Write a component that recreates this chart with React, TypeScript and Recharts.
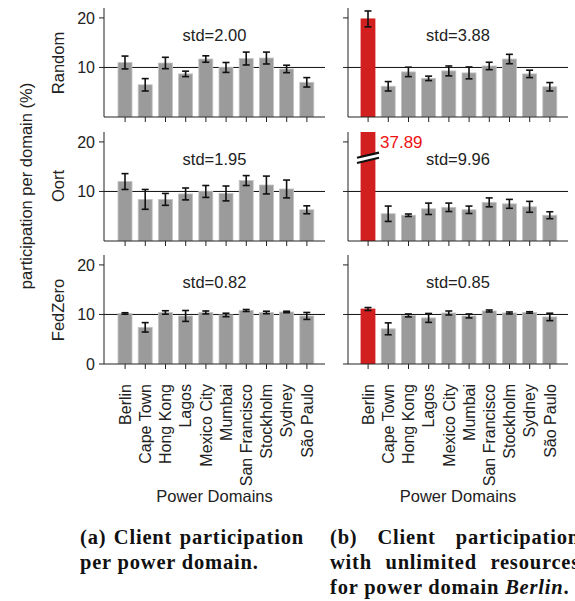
import React from "react";
import { BarChart, Bar, XAxis, YAxis, ErrorBar, ReferenceLine } from "recharts";

// power domains on the x axis
const domains = [
  "Berlin",
  "Cape Town",
  "Hong Kong",
  "Lagos",
  "Mexico City",
  "Mumbai",
  "San Francisco",
  "Stockholm",
  "Sydney",
  "São Paulo",
];

// (a) client participation per power domain
const randomShare = [11.0, 6.5, 10.9, 8.7, 11.7, 10.0, 11.8, 11.9, 9.7, 7.0];
const randomErr = [1.3, 1.25, 1.15, 0.55, 0.65, 1.0, 1.3, 1.2, 0.75, 0.95];
const oortShare = [12.0, 8.4, 8.4, 9.5, 10.0, 9.6, 12.2, 11.3, 10.5, 6.3];
const oortErr = [1.6, 2.0, 1.2, 1.2, 1.2, 1.5, 1.0, 1.8, 1.8, 0.8];
const fedzeroShare = [10.2, 7.4, 10.4, 9.7, 10.4, 9.9, 10.8, 10.4, 10.5, 9.7];
const fedzeroErr = [0.15, 0.95, 0.35, 1.1, 0.3, 0.35, 0.2, 0.25, 0.15, 0.7];

// (b) unlimited resources for Berlin
const randomBerlinShare = [19.8, 6.2, 9.1, 7.8, 9.3, 8.9, 10.3, 11.7, 8.7, 6.1];
const randomBerlinErr = [1.6, 0.95, 0.95, 0.45, 1.0, 1.2, 0.75, 0.95, 0.75, 0.85];
const oortBerlinShare = [37.89, 5.5, 5.2, 6.5, 6.8, 6.3, 7.8, 7.5, 6.9, 5.2];
const oortBerlinErr = [null, 1.55, 0.25, 1.15, 0.85, 0.75, 0.9, 0.9, 1.1, 0.7];
const fedzeroBerlinShare = [11.1, 7.1, 9.8, 9.3, 10.3, 9.7, 10.7, 10.3, 10.4, 9.5];
const fedzeroBerlinErr = [0.3, 1.2, 0.3, 0.9, 0.4, 0.4, 0.2, 0.2, 0.15, 0.75];

const stdLabels = [
  ["std=2.00", "std=3.88"],
  ["std=1.95", "std=9.96"],
  ["std=0.82", "std=0.85"],
];
const strategies = ["Random", "Oort", "FedZero"];
const yTicks = [0, 10, 20];
const Y_MAX = 22;
const FAIR_SHARE = 10;
const BREAK_AT = 16.8;
const LABEL_AT = 20;

const GRAY = "#9b9b9b";
const RED = "#d21f20";
const INK = "#222";

const PLOT_H = 109;
const MT = 4;
const MR = 4;
const ROW_TOPS = [8, 131.5, 255];
const COLS = [
  { left: 34, axisW: 70, plotW: 221, padL: 11, padR: 8 },
  { left: 330, axisW: 18, plotW: 220, padL: 10, padR: 8 },
];

function buildRows(values: number[], errs: (number | null)[], highlight: boolean) {
  return domains.map((d, i) => ({
    domain: d,
    value: values[i],
    shown: Math.min(values[i], Y_MAX),
    err: errs[i],
    hot: highlight && i === 0,
  }));
}

const panels = [
  [buildRows(randomShare, randomErr, false), buildRows(randomBerlinShare, randomBerlinErr, true)],
  [buildRows(oortShare, oortErr, false), buildRows(oortBerlinShare, oortBerlinErr, true)],
  [buildRows(fedzeroShare, fedzeroErr, false), buildRows(fedzeroBerlinShare, fedzeroBerlinErr, true)],
];

const blankTick = () => <g />;

function DomainTick(props: any) {
  const { x, y, payload } = props;
  return (
    <text
      x={x}
      y={y}
      transform={`rotate(-90, ${x}, ${y})`}
      textAnchor="end"
      dy="0.36em"
      fontSize={16}
      fill={INK}
    >
      {payload.value}
    </text>
  );
}

function BarShape(props: any) {
  const { x, y, width, height, payload } = props;
  const fill = payload.hot ? RED : GRAY;
  const rect = (
    <rect x={x} y={y} width={width} height={height} fill={fill} stroke={payload.hot ? fill : "#c4c4c4"} strokeWidth={0.8} />
  );
  if (payload.value <= Y_MAX) return rect;
  // broken bar: value runs off the axis
  const bottom = y + height;
  const perUnit = height / payload.shown;
  const yb = bottom - BREAK_AT * perUnit;
  const yl = bottom - LABEL_AT * perUnit;
  const x0 = x - 4;
  const x1 = x + width + 4;
  const gap = 2.6;
  const rise = 2.6;
  return (
    <g>
      {rect}
      <polygon
        points={`${x0},${yb - gap + rise} ${x1},${yb - gap - rise} ${x1},${yb + gap - rise} ${x0},${yb + gap + rise}`}
        fill="#fff"
      />
      <line x1={x0} y1={yb - gap + rise} x2={x1} y2={yb - gap - rise} stroke="#111" strokeWidth={2.2} />
      <line x1={x0} y1={yb + gap + rise} x2={x1} y2={yb + gap - rise} stroke="#111" strokeWidth={2.2} />
      <text x={x + width + 5} y={yl} dy="0.36em" fontSize={17} fill="#ee1111">
        {payload.value.toFixed(2)}
      </text>
    </g>
  );
}

function Panel({ row, col }: { row: number; col: number }) {
  const c = COLS[col];
  const bottomRow = row === 2;
  const xH = bottomRow ? 140 : 8;
  return (
    <div style={{ position: "absolute", left: c.left, top: ROW_TOPS[row] - MT }}>
      <BarChart
        width={c.axisW + c.plotW + MR}
        height={MT + PLOT_H + xH}
        data={panels[row][col]}
        margin={{ top: MT, right: MR, left: 0, bottom: 0 }}
        barSize={14}
      >
        <XAxis
          dataKey="domain"
          height={xH}
          interval={0}
          padding={{ left: c.padL, right: c.padR }}
          tick={bottomRow ? <DomainTick /> : blankTick}
          tickSize={5}
          tickMargin={15}
          axisLine={{ stroke: INK }}
          tickLine={{ stroke: INK }}
          label={
            bottomRow
              ? { value: "Power Domains", position: "insideBottom", offset: 2, fontSize: 16.5, fill: INK }
              : undefined
          }
        />
        <YAxis
          width={c.axisW}
          domain={[0, Y_MAX]}
          ticks={yTicks}
          allowDataOverflow
          tick={col === 0 ? { fontSize: 16, fill: INK } : blankTick}
          tickSize={5}
          tickMargin={4}
          axisLine={{ stroke: INK }}
          tickLine={{ stroke: INK }}
        />
        <ReferenceLine y={FAIR_SHARE} stroke="#111" strokeWidth={1} zIndex={250} />
        <Bar dataKey="shown" shape={BarShape} isAnimationActive={false}>
          <ErrorBar dataKey="err" width={3.5} stroke="#111" strokeWidth={1.6} isAnimationActive={false} />
        </Bar>
      </BarChart>
    </div>
  );
}

function VText({ x, y, size, children }: { x: number; y: number; size: number; children: React.ReactNode }) {
  return (
    <div
      style={{
        position: "absolute",
        left: x,
        top: y,
        transform: "translate(-50%, -50%) rotate(-90deg)",
        whiteSpace: "nowrap",
        fontSize: size,
        color: INK,
        lineHeight: 1,
      }}
    >
      {children}
    </div>
  );
}

const capStyle: React.CSSProperties = {
  position: "absolute",
  fontFamily: "'Liberation Serif', serif",
  fontWeight: 700,
  fontSize: 20.5,
  letterSpacing: 0.8,
  lineHeight: "25px",
  color: "#111",
  whiteSpace: "nowrap",
};
const justified: React.CSSProperties = { textAlign: "justify", textAlignLast: "justify", whiteSpace: "normal" };

export default function App() {
  return (
    <div
      style={{
        position: "absolute",
        left: 0,
        top: 0,
        width: 575,
        height: 601,
        overflow: "hidden",
        background: "#fff",
        fontFamily: "'Liberation Sans', Arial, sans-serif",
      }}
    >
      {[0, 1, 2].map((r) => [0, 1].map((c) => <Panel key={`${r}-${c}`} row={r} col={c} />))}

      {[0, 1, 2].map((r) =>
        [0, 1].map((c) => (
          <div
            key={`std-${r}-${c}`}
            style={{
              position: "absolute",
              left: COLS[c].left + COLS[c].axisW + COLS[c].plotW / 2 - 60,
              width: 120,
              top: ROW_TOPS[r] + 27 - 10,
              lineHeight: "20px",
              textAlign: "center",
              fontSize: 16.5,
              color: INK,
            }}
          >
            {stdLabels[r][c]}
          </div>
        ))
      )}

      {strategies.map((s, r) => (
        <VText key={s} x={58} y={ROW_TOPS[r] + PLOT_H / 2} size={16.5}>
          {s}
        </VText>
      ))}
      <VText x={26} y={186} size={16.5}>
        participation per domain (%)
      </VText>

      <div style={{ ...capStyle, left: 80, top: 525, width: 224 }}>
        <div style={justified}>(a) Client participation</div>
        <div>per power domain.</div>
      </div>
      <div style={{ ...capStyle, left: 330, top: 525, width: 250 }}>
        <div style={justified}>(b) Client participation</div>
        <div style={justified}>with unlimited resources</div>
        <div>
          for power domain <i>Berlin</i>.
        </div>
      </div>
    </div>
  );
}
